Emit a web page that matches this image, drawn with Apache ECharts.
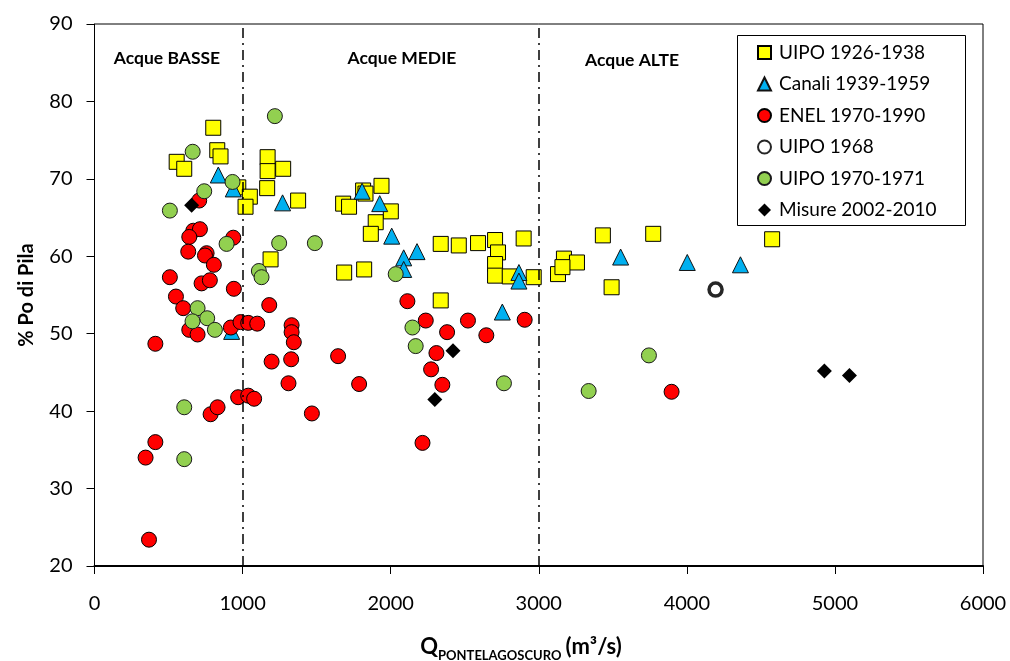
<!DOCTYPE html>
<html>
<head>
<meta charset="utf-8">
<script src="https://cdn.jsdelivr.net/npm/echarts@6/dist/echarts.min.js"></script>
<style>
  html, body { margin: 0; padding: 0; background: #fff; }
  #chart { width: 1010px; height: 661px; }
</style>
</head>
<body>
<div id="chart"></div>
<script>
// Discharge at Pontelagoscuro (m³/s) vs share of Po di Pila (%)
const xTicks = [0, 1000, 2000, 3000, 4000, 5000, 6000];
const yTicks = [20, 30, 40, 50, 60, 70, 80, 90];
const regimeBounds = [1000, 3000];
const regimeLabels = ['Acque BASSE', 'Acque MEDIE', 'Acque ALTE'];

const seriesNames = ['UIPO 1926-1938', 'Canali 1939-1959', 'ENEL 1970-1990', 'UIPO 1968', 'UIPO 1970-1971', 'Misure 2002-2010'];

const uipo1926 = [
  [802, 76.6], [829, 73.7], [851, 72.9], [555, 72.2], [606, 71.3], [971, 68.9], [1049, 67.7], [1020, 66.4],
  [1169, 72.8], [1169, 71.0], [1274, 71.3], [1166, 68.8], [1375, 67.2], [1679, 66.8], [1719, 66.4],
  [1814, 68.5], [1830, 68.1], [1938, 69.1], [2001, 65.8], [1899, 64.4], [1866, 62.9], [1686, 57.9],
  [1821, 58.3], [1189, 59.6], [2338, 61.6], [2460, 61.4], [2590, 61.7], [2705, 62.1], [2725, 60.5],
  [2898, 62.3], [2705, 59.0], [2705, 57.5], [2804, 57.4], [2966, 57.3], [2338, 54.3], [3170, 59.7],
  [3258, 59.2], [3130, 57.7], [3160, 58.6], [3433, 62.7], [3773, 62.9], [4576, 62.2], [3492, 56.0]
];
const canali = [
  [836, 70.5], [937, 68.7], [926, 50.3], [1270, 66.9], [1807, 68.4], [1926, 66.8], [2007, 62.6],
  [2088, 59.8], [2178, 60.6], [2088, 58.3], [2866, 57.9], [2866, 56.8], [2754, 52.8], [3553, 59.9],
  [4003, 59.2], [4362, 58.9]
];
const enel = [
  [707, 67.2], [667, 63.3], [712, 63.5], [640, 62.5], [937, 62.4], [633, 60.6], [757, 60.4], [746, 60.1],
  [806, 58.9], [509, 57.3], [723, 56.5], [779, 56.9], [941, 55.8], [550, 54.8], [1180, 53.7], [599, 53.3],
  [640, 50.5], [696, 49.9], [921, 50.8], [986, 51.5], [1038, 51.4], [1099, 51.3], [1331, 51.1], [1331, 50.2],
  [1346, 48.9], [1328, 46.7], [1196, 46.4], [1310, 43.6], [1645, 47.1], [411, 48.7], [784, 39.6], [831, 40.5],
  [970, 41.8], [1038, 42.0], [1078, 41.6], [1468, 39.7], [411, 36.0], [345, 34.0], [368, 23.4], [2113, 54.2],
  [2237, 51.7], [2522, 51.7], [2905, 51.8], [2381, 50.2], [2646, 49.8], [2309, 47.5], [2273, 45.4],
  [1787, 43.5], [2349, 43.4], [2215, 35.9], [3897, 42.5]
];
const uipo1968 = [[4194, 55.7]];
const uipo1970 = [
  [1218, 78.1], [663, 73.5], [932, 69.6], [741, 68.4], [509, 65.9], [892, 61.6], [1247, 61.7], [1488, 61.7],
  [1110, 58.1], [1128, 57.3], [696, 53.3], [761, 52.0], [662, 51.6], [813, 50.5], [606, 40.5], [606, 33.8],
  [2034, 57.7], [2147, 50.8], [2169, 48.4], [2765, 43.6], [3337, 42.6], [3744, 47.2]
];
const misure = [[656, 66.6], [2421, 47.8], [2298, 41.5], [4929, 45.2], [5098, 44.6]];

const FONT = 'Lato, "Open Sans", sans-serif';
const chart = echarts.init(document.getElementById('chart'));

const GRID = { left: 94.5, right: 27, top: 24, bottom: 95 };

function scatter(name, data, symbol, size, fill, border, borderWidth) {
  return {
    name, type: 'scatter', data, symbol, symbolSize: size,
    itemStyle: { color: fill, borderColor: border, borderWidth, opacity: 1 },
    emphasis: { disabled: true }
  };
}

const series = [
  scatter(seriesNames[0], uipo1926, 'rect', 15, '#FFFF00', '#000', 1),
  scatter(seriesNames[1], canali, 'triangle', 16, '#00B0F0', '#111', 1),
  scatter(seriesNames[2], enel, 'circle', 15, '#FF0000', '#000', 1),
  scatter(seriesNames[3], uipo1968, 'circle', 13, '#FFFFFF', '#262626', 3.5),
  scatter(seriesNames[4], uipo1970, 'circle', 15, '#92D050', '#1a1a1a', 1),
  scatter(seriesNames[5], misure, 'diamond', 15, '#000', '#000', 0)
];
// regime boundaries
series[0].markLine = {
  silent: true, symbol: 'none', animation: false,
  label: { show: false },
  lineStyle: { color: '#000', width: 1.5, type: [10, 5, 2, 5] },
  data: regimeBounds.map(v => ({ xAxis: v }))
};

chart.setOption({
  animation: false,
  backgroundColor: '#fff',
  grid: Object.assign({ show: true, borderColor: '#000', borderWidth: 1, backgroundColor: 'transparent' }, GRID),
  xAxis: {
    type: 'value', min: xTicks[0], max: xTicks[xTicks.length - 1], interval: 1000,
    axisLine: { show: true, lineStyle: { color: '#000', width: 2 } },
    axisTick: { show: true, inside: false, length: 8, lineStyle: { color: '#000' } },
    axisLabel: { color: '#000', fontSize: 20, fontFamily: FONT, margin: 28, formatter: v => String(v) },
    splitLine: { show: false }
  },
  yAxis: {
    type: 'value', min: yTicks[0], max: yTicks[yTicks.length - 1], interval: 10,
    name: '% Po di Pila', nameLocation: 'middle', nameGap: 58, nameRotate: 90,
    nameTextStyle: { color: '#000', fontSize: 20, fontWeight: 'bold', fontFamily: FONT },
    axisLine: { show: true, lineStyle: { color: '#000', width: 1 } },
    axisTick: { show: true, inside: false, length: 8, lineStyle: { color: '#000' } },
    axisLabel: { color: '#000', fontSize: 20, fontFamily: FONT, margin: 22, formatter: v => String(v) },
    splitLine: { show: false }
  },
  legend: {
    orient: 'vertical', left: 752, top: 38,
    itemWidth: 13, itemHeight: 13, itemGap: 12.5,
    textStyle: { color: '#000', fontSize: 19, fontFamily: FONT, padding: [0, 0, 0, 3] },
    data: seriesNames,
    selectedMode: false
  },
  graphic: [
    { type: 'rect', left: 735, top: 33, shape: { width: 228, height: 190 },
      style: { fill: 'none', stroke: '#000', lineWidth: 1 }, z: 1, silent: true },
    { type: 'text', x: 167, y: 58, style: { text: regimeLabels[0], fill: '#000', font: 'bold 17.5px ' + FONT, align: 'center', verticalAlign: 'middle' } },
    { type: 'text', x: 402, y: 58, style: { text: regimeLabels[1], fill: '#000', font: 'bold 17.5px ' + FONT, align: 'center', verticalAlign: 'middle' } },
    { type: 'text', x: 632, y: 60, style: { text: regimeLabels[2], fill: '#000', font: 'bold 17.5px ' + FONT, align: 'center', verticalAlign: 'middle' } },
    { type: 'text', x: 521, y: 632,
      style: {
        text: '{a|Q}{b|PONTELAGOSCURO}{a|(m³/s)}',
        align: 'center',
        rich: {
          a: { fontSize: 22, fontWeight: 'bold', fontFamily: FONT, fill: '#000', lineHeight: 30, verticalAlign: 'middle' },
          b: { fontSize: 13, fontWeight: 'bold', fontFamily: FONT, fill: '#000', lineHeight: 14, verticalAlign: 'bottom', padding: [0, 4, 0, 0] }
        }
      } }
  ],
  series
});
</script>
</body>
</html>
